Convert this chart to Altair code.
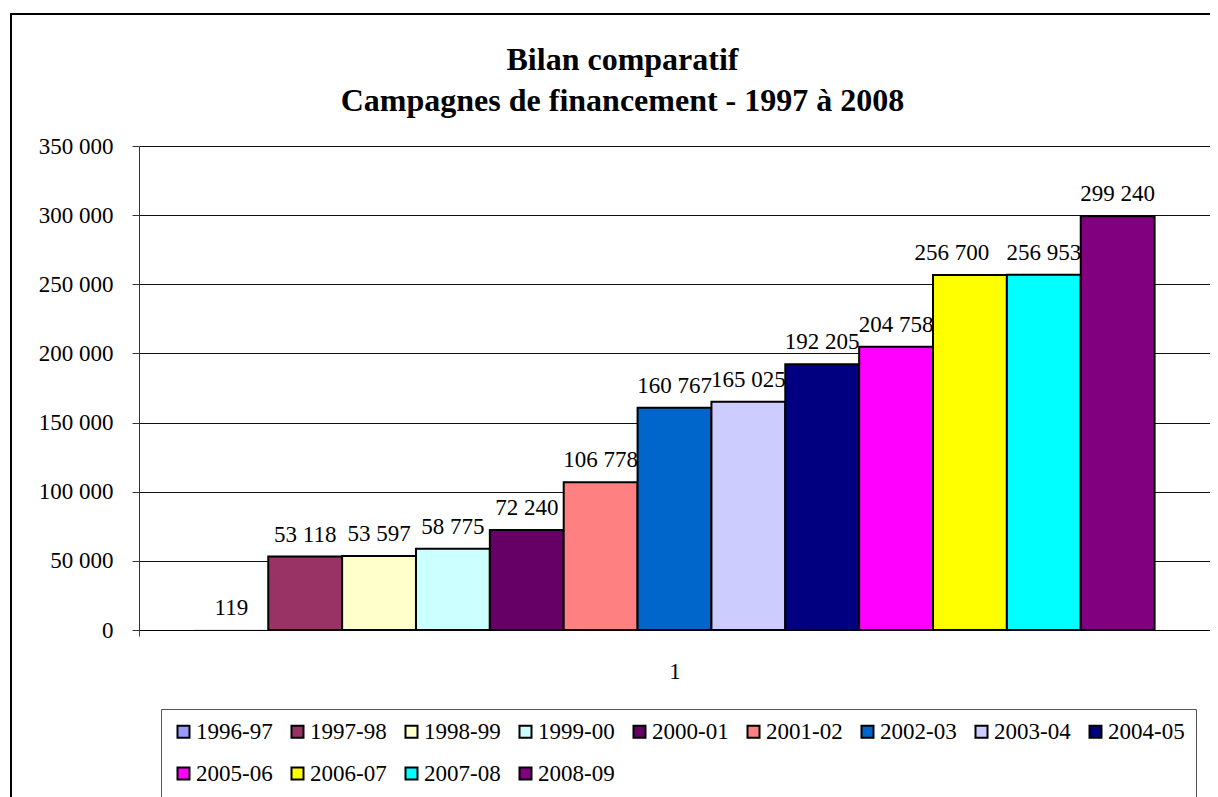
import altair as alt
import pandas as pd

seasons = ["1996-97", "1997-98", "1998-99", "1999-00", "2000-01", "2001-02", "2002-03",
           "2003-04", "2004-05", "2005-06", "2006-07", "2007-08", "2008-09"]
values = [119, 53118, 53597, 58775, 72240, 106778, 160767, 165025, 192205, 204758,
          256700, 256953, 299240]
colors = ["#9999FF", "#993366", "#FFFFCC", "#CCFFFF", "#660066", "#FF8080", "#0066CC",
          "#CCCCFF", "#000080", "#FF00FF", "#FFFF00", "#00FFFF", "#800080"]
category = "1"

df = pd.DataFrame({
    "season": seasons,
    "value": values,
    "cat": [category] * len(seasons),
    "label": [f"{v:,}".replace(",", " ") for v in values],
})

FONT = "'Liberation Serif', 'DejaVu Serif', 'Noto Serif', 'Times New Roman', serif"
W, H = 1071, 484

x_enc = alt.X("cat:N", title=None,
              scale=alt.Scale(paddingInner=0, paddingOuter=0),
              axis=alt.Axis(tickBand="extent", labelAngle=0, labelFontSize=23,
                            labelFont=FONT, labelColor="black", labelPadding=24,
                            tickSize=6, tickColor="#444", domainColor="black",
                            grid=False))
xo_enc = alt.XOffset("season:N", sort=seasons,
                     scale=alt.Scale(paddingInner=0, paddingOuter=0.75))
y_enc = alt.Y("value:Q", title=None,
              scale=alt.Scale(domain=[0, 350000], nice=False),
              axis=alt.Axis(values=list(range(0, 350001, 50000)),
                            labelExpr="replace(format(datum.value, ','), ',', ' ')",
                            labelFontSize=23, labelFont=FONT, labelColor="black",
                            labelPadding=19, tickSize=7, tickColor="#333",
                            domainColor="#333", grid=True, gridColor="#111",
                            gridWidth=1))

base = alt.Chart(df)

bars = base.mark_bar(stroke="black", strokeWidth=2).encode(
    x=x_enc, xOffset=xo_enc, y=y_enc,
    strokeOpacity=alt.condition("datum.value < 1000", alt.value(0), alt.value(1)),
    color=alt.Color("season:N", sort=seasons,
                    scale=alt.Scale(domain=seasons, range=colors),
                    legend=alt.Legend(title=None, orient="none", legendX=22, legendY=563,
                                      columns=9, columnPadding=13, rowPadding=18,
                                      symbolType="square", symbolSize=144,
                                      symbolStrokeColor="black", symbolStrokeWidth=2,
                                      labelFont=FONT, labelFontSize=23, labelColor="black",
                                      labelOffset=1, strokeColor="#555", padding=11,
                                      direction="horizontal"))
)

text_style = dict(font=FONT, fontSize=23, color="black", baseline="alphabetic", dy=-15)
texts = base.mark_text(**text_style).encode(
    x=x_enc, xOffset=xo_enc, y=y_enc, text="label:N"
).transform_filter("datum.season != '2006-07'")
text_shift = base.mark_text(dx=-18, **text_style).encode(
    x=x_enc, xOffset=xo_enc, y=y_enc, text="label:N"
).transform_filter("datum.season == '2006-07'")

frame = alt.Chart(pd.DataFrame({"a": [0]})).mark_rect(
    fill=None, stroke="black", strokeWidth=2
).encode(
    x=alt.value(-128), x2=alt.value(W + 100),
    y=alt.value(-132), y2=alt.value(H + 300)
)

chart = alt.layer(frame, bars, texts, text_shift).properties(
    width=W, height=H,
    autosize=alt.AutoSizeParams(type="none"),
    padding={"left": 131, "top": 138, "right": 0, "bottom": 167},
    title=alt.TitleParams(
        text=["Bilan comparatif", "Campagnes de financement - 1997 à 2008"],
        font=FONT, fontSize=32, fontWeight="bold", color="black",
        anchor="middle", frame="group", dx=-52, offset=-130,
        baseline="alphabetic", lineHeight=41
    )
).configure_view(fill="#C0C0C0", stroke="#808080", strokeWidth=2
).configure(background="white")

chart.save("out.html", embed_options={"renderer": "svg", "actions": False})
